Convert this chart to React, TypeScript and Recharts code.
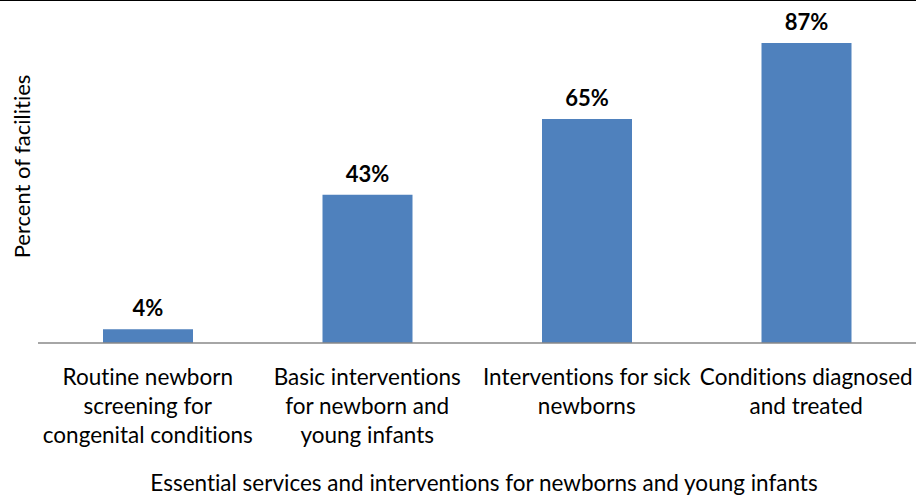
import React from 'react';
import { BarChart, Bar, XAxis, YAxis, LabelList, Label } from 'recharts';

const categories = [
  'Routine newborn screening for congenital conditions',
  'Basic interventions for newborn and young infants',
  'Interventions for sick newborns',
  'Conditions diagnosed and treated',
];
const tickLines = [
  ['Routine newborn', 'screening for', 'congenital conditions'],
  ['Basic interventions', 'for newborn and', 'young infants'],
  ['Interventions for sick', 'newborns'],
  ['Conditions diagnosed', 'and treated'],
];
const percentValues = [4, 43, 65, 87];

const data = categories.map((c, i) => ({ category: c, value: percentValues[i] }));

const FONT = 'Lato, "Noto Sans", sans-serif';
const baseText = { fontFamily: FONT, fontVariantLigatures: 'none' as const };

const CategoryTick = (props: any) => {
  const { x, y, payload } = props;
  const idx = categories.indexOf(payload.value);
  const lines = idx >= 0 ? tickLines[idx] : [String(payload.value)];
  return (
    <text x={x} y={y} textAnchor="middle" fontSize={22.5} fill="#000" style={baseText}>
      {lines.map((l, i) => (
        <tspan key={i} x={x} y={y + 34 + i * 29}>
          {l}
        </tspan>
      ))}
    </text>
  );
};

export default function App() {
  return (
    <div style={{ position: 'absolute', left: 0, top: 0, width: 916, height: 496, background: '#fff' }}>
      <div style={{ position: 'absolute', left: 0, top: 0, width: 916, height: 1, background: '#000' }} />
      <BarChart
        width={916}
        height={496}
        data={data}
        margin={{ top: 0, right: 0, left: 0, bottom: 0 }}
        barSize={90}
      >
        <XAxis
          dataKey="category"
          height={153}
          interval={0}
          tickLine={false}
          axisLine={{ stroke: '#898989', strokeWidth: 1.5 }}
          tick={<CategoryTick />}
        >
          <Label
            value="Essential services and interventions for newborns and young infants"
            position="insideBottom"
            offset={5}
            dx={7}
            style={{ ...baseText, fontSize: 22.5, fill: '#000' }}
          />
        </XAxis>
        <YAxis
          domain={[0, 99.5]}
          width={38}
          tick={false}
          tickLine={false}
          axisLine={false}
        >
          <Label
            value="Percent of facilities"
            angle={-90}
            position="center"
            dx={3}
            dy={-5}
            style={{ ...baseText, fontSize: 22, fill: '#000', textAnchor: 'middle' }}
          />
        </YAxis>
        <Bar dataKey="value" fill="#4f81bd" isAnimationActive={false}>
          <LabelList
            dataKey="value"
            position="top"
            offset={13}
            formatter={(v: any) => `${v}%`}
            style={{ ...baseText, fontSize: 22, fontWeight: 700, fill: '#000' }}
          />
        </Bar>
      </BarChart>
    </div>
  );
}
